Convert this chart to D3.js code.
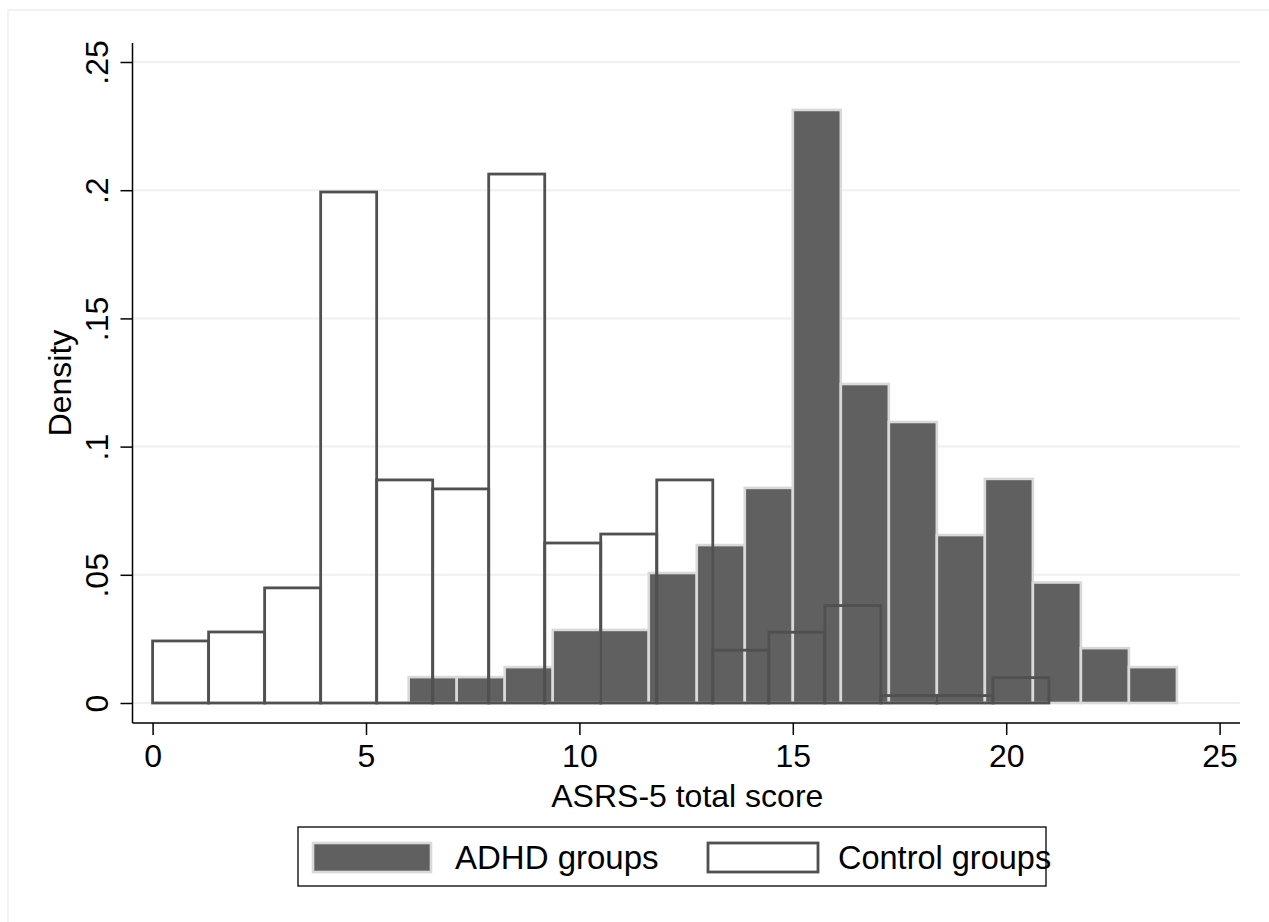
<!DOCTYPE html>
<html><head><meta charset="utf-8">
<script src="https://cdn.jsdelivr.net/npm/d3@7"></script>
<style>body{margin:0;background:#fff;} svg{display:block;} text{font-family:"Liberation Sans",Arial,sans-serif;fill:#000;}</style>
</head><body>
<svg id="c" width="1269" height="922"></svg>
<script>
// ADHD histogram: 16 bins from 6 to 24
const adhdStart = 6, adhdWidth = 1.125;
const adhdDensity = [0.0101,0.0101,0.0140,0.0285,0.0285,0.0507,0.0616,0.0839,0.2313,0.1244,0.1096,0.0655,0.0874,0.0470,0.0214,0.0140];
// Control histogram: 16 bins from 0 to 21
const ctrlStart = 0, ctrlWidth = 1.3125;
const ctrlDensity = [0.0242,0.0277,0.0449,0.1993,0.0870,0.0835,0.2063,0.0624,0.0659,0.0870,0.0206,0.0276,0.0380,0.0029,0.0029,0.0099];
const xTicks = [0,5,10,15,20,25];
const yTicks = [0,0.05,0.1,0.15,0.2,0.25];
const yTickLabels = ["0",".05",".1",".15",".2",".25"];
const legendLabels = ["ADHD groups","Control groups"];

const svg = d3.select("#c");
const x = d3.scaleLinear().domain([0,25]).range([152.6,1219.6]);
const y = d3.scaleLinear().domain([0,0.25]).range([703,62]);
const plotL = 132.5, plotR = 1240, plotT = 43, plotB = 723;
const fs = 32;

// outer frame
svg.append("rect").attr("x",8).attr("y",10).attr("width",1262).attr("height",920)
  .attr("fill","none").attr("stroke","#eaf2f3").attr("stroke-width",1.5);

// gridlines
svg.append("g").selectAll("line").data(yTicks).join("line")
  .attr("x1",plotL).attr("x2",plotR).attr("y1",d=>y(d)).attr("y2",d=>y(d))
  .attr("stroke","#eaf2f3").attr("stroke-width",2);

const adhd = adhdDensity.map((v,i)=>({x0:adhdStart+i*adhdWidth,x1:adhdStart+(i+1)*adhdWidth,v}));
const ctrl = ctrlDensity.map((v,i)=>({x0:ctrlStart+i*ctrlWidth,x1:ctrlStart+(i+1)*ctrlWidth,v}));

svg.append("g").selectAll("rect").data(adhd).join("rect")
  .attr("x",d=>x(d.x0)).attr("width",d=>x(d.x1)-x(d.x0))
  .attr("y",d=>y(d.v)).attr("height",d=>y(0)-y(d.v))
  .attr("fill","#606060").attr("stroke","#d9d9d9").attr("stroke-width",2.6);

svg.append("g").selectAll("rect").data(ctrl).join("rect")
  .attr("x",d=>x(d.x0)).attr("width",d=>x(d.x1)-x(d.x0))
  .attr("y",d=>y(d.v)).attr("height",d=>y(0)-y(d.v))
  .attr("fill","none").attr("stroke","#505050").attr("stroke-width",2.8);

// axes
const xAxis = d3.axisBottom(x).tickValues(xTicks).tickSize(12).tickPadding(10).tickFormat(d3.format("d"));
const gx = svg.append("g").attr("transform",`translate(0,${plotB})`).call(xAxis);
gx.select(".domain").attr("d",`M${plotL},0H${plotR}`).attr("stroke","#000").attr("stroke-width",1.5);
gx.selectAll(".tick line").attr("stroke","#000").attr("stroke-width",1.5);
gx.selectAll(".tick text").attr("font-size",fs).attr("font-family","Liberation Sans, Arial, sans-serif").attr("dy","0.69em");

const yAxis = d3.axisLeft(y).tickValues(yTicks).tickSize(12).tickFormat((d,i)=>yTickLabels[i]);
const gy = svg.append("g").attr("transform",`translate(${plotL},0)`).call(yAxis);
gy.select(".domain").attr("d",`M0,${plotB}V${plotT}`).attr("stroke","#000").attr("stroke-width",1.5);
gy.selectAll(".tick line").attr("stroke","#000").attr("stroke-width",1.5);
gy.selectAll(".tick text").attr("font-size",fs).attr("font-family","Liberation Sans, Arial, sans-serif")
  .attr("x",null).attr("dy",null).attr("text-anchor","middle")
  .attr("transform","translate(-25,0) rotate(-90)");

// axis titles
svg.append("text").attr("x",(x(0)+plotR)/2 - 9).attr("y",807).attr("text-anchor","middle")
  .attr("font-size",fs).text("ASRS-5 total score");
svg.append("text").attr("transform",`translate(71,${(plotT+plotB)/2}) rotate(-90)`).attr("text-anchor","middle")
  .attr("font-size",fs).text("Density");

// legend
const lg = svg.append("g");
lg.append("rect").attr("x",298).attr("y",827).attr("width",748).attr("height",59)
  .attr("fill","#fff").attr("stroke","#000").attr("stroke-width",1.3);
lg.append("rect").attr("x",313).attr("y",843).attr("width",118).attr("height",29)
  .attr("fill","#606060").attr("stroke","#d9d9d9").attr("stroke-width",2.6);
lg.append("text").attr("x",455).attr("y",869).attr("font-size",33).text(legendLabels[0]);
lg.append("rect").attr("x",708).attr("y",843).attr("width",110).attr("height",29)
  .attr("fill","#fff").attr("stroke","#505050").attr("stroke-width",2.8);
lg.append("text").attr("x",838).attr("y",869).attr("font-size",32.5).text(legendLabels[1]);
</script>
</body></html>
